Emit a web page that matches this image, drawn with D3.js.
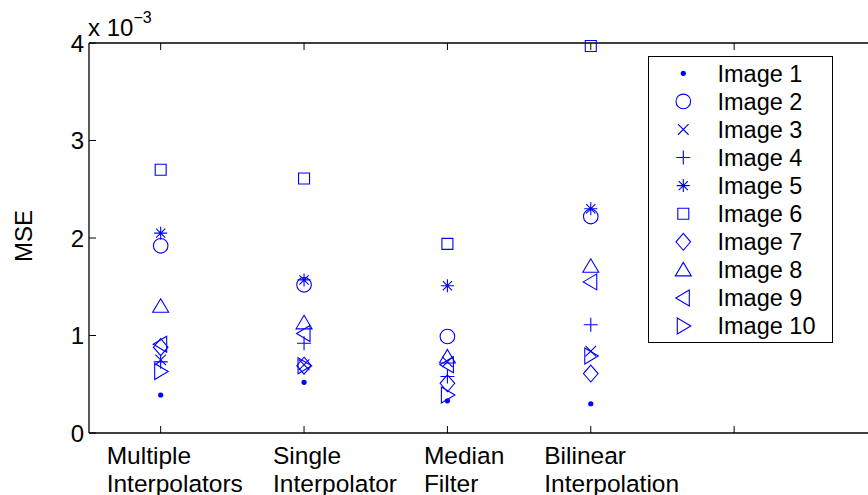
<!DOCTYPE html>
<html>
<head>
<meta charset="utf-8">
<script src="https://cdn.jsdelivr.net/npm/d3@7"></script>
<style>
  body { margin: 0; background: #fff; }
  svg { display: block; font-family: "Liberation Sans", Arial, Helvetica, sans-serif; }
</style>
</head>
<body>
<svg id="chart" width="868" height="495"></svg>
<script>
// methods on the x axis, one series per test image (MSE values)
const methods = [["Multiple", "Interpolators"], ["Single", "Interpolator"], ["Median", "Filter"], ["Bilinear", "Interpolation"]];
const seriesNames = ["Image 1", "Image 2", "Image 3", "Image 4", "Image 5", "Image 6", "Image 7", "Image 8", "Image 9", "Image 10"];
const markers = ["dot", "circle", "x", "plus", "star", "square", "diamond", "tri-up", "tri-left", "tri-right"];
const image1 = [0.00039, 0.00052, 0.00033, 0.00030];
const image2 = [0.00192, 0.00152, 0.00099, 0.00222];
const image3 = [0.00075, 0.00070, 0.00073, 0.00084];
const image4 = [0.00073, 0.00092, 0.00058, 0.00111];
const image5 = [0.00205, 0.00157, 0.00151, 0.00230];
const image6 = [0.00270, 0.00261, 0.00194, 0.00397];
const image7 = [0.00088, 0.00069, 0.00051, 0.00061];
const image8 = [0.00130, 0.00113, 0.00078, 0.00171];
const image9 = [0.00091, 0.00102, 0.00070, 0.00155];
const image10 = [0.00063, 0.00069, 0.00039, 0.00079];
const seriesValues = [image1, image2, image3, image4, image5, image6, image7, image8, image9, image10];
const yTicks = [0, 0.001, 0.002, 0.003, 0.004];
const xTicks = [1, 2, 3, 4, 5];

// tick label block offsets from the tick (labels were placed by hand in the original)
const labelShift = [-54, -31, -23.5, -46.5];

const svg = d3.select("#chart");
const plotLeft = 89, plotTop = 43, plotBottom = 433, plotRight = 877.5;

const x = d3.scaleLinear().domain([0.5, 6]).range([plotLeft, plotRight]);
const y = d3.scaleLinear().domain([0, 0.004]).range([plotBottom, plotTop]);

const blue = "#0000ff";

function markerPath(type) {
  const p = d3.path();
  switch (type) {
    case "circle":
      p.moveTo(7.3, 0); p.arc(0, 0, 7.3, 0, 2 * Math.PI); break;
    case "x":
      p.moveTo(-5.3, -5.3); p.lineTo(5.3, 5.3);
      p.moveTo(-5.3, 5.3); p.lineTo(5.3, -5.3); break;
    case "plus":
      p.moveTo(-7, 0); p.lineTo(7, 0);
      p.moveTo(0, -7); p.lineTo(0, 7); break;
    case "star":
      p.moveTo(-6.5, 0); p.lineTo(6.5, 0);
      p.moveTo(0, -6.5); p.lineTo(0, 6.5);
      p.moveTo(-4.6, -4.6); p.lineTo(4.6, 4.6);
      p.moveTo(-4.6, 4.6); p.lineTo(4.6, -4.6); break;
    case "square":
      p.rect(-5.5, -5.5, 11, 11); break;
    case "diamond":
      p.moveTo(0, -8.5); p.lineTo(7.3, 0); p.lineTo(0, 8.5); p.lineTo(-7.3, 0); p.closePath(); break;
    case "tri-up":
      p.moveTo(0, -7.5); p.lineTo(8, 6); p.lineTo(-8, 6); p.closePath(); break;
    case "tri-left":
      p.moveTo(-7.5, 0); p.lineTo(6, -8); p.lineTo(6, 8); p.closePath(); break;
    case "tri-right":
      p.moveTo(7.5, 0); p.lineTo(-6, -8); p.lineTo(-6, 8); p.closePath(); break;
  }
  return p.toString();
}

function drawMarker(g, type) {
  if (type === "dot") {
    g.append("circle").attr("r", 2.6).attr("fill", blue);
  } else {
    g.append("path").attr("d", markerPath(type))
      .attr("fill", "none").attr("stroke", blue).attr("stroke-width", 1.1);
  }
}

// axes box (right side runs off the page)
const axisColor = "#000";
svg.append("line").attr("x1", plotLeft).attr("x2", plotRight).attr("y1", plotBottom).attr("y2", plotBottom)
  .attr("stroke", axisColor).attr("stroke-width", 1.3);
svg.append("line").attr("x1", plotLeft).attr("x2", plotRight).attr("y1", plotTop).attr("y2", plotTop)
  .attr("stroke", axisColor).attr("stroke-width", 1.3);
svg.append("line").attr("x1", plotLeft).attr("x2", plotLeft).attr("y1", plotTop).attr("y2", plotBottom)
  .attr("stroke", axisColor).attr("stroke-width", 1.3);

// inward ticks
xTicks.forEach(t => {
  svg.append("line").attr("x1", x(t)).attr("x2", x(t)).attr("y1", plotBottom).attr("y2", plotBottom - 7)
    .attr("stroke", axisColor).attr("stroke-width", 1);
  svg.append("line").attr("x1", x(t)).attr("x2", x(t)).attr("y1", plotTop).attr("y2", plotTop + 7)
    .attr("stroke", axisColor).attr("stroke-width", 1);
});
yTicks.forEach(t => {
  svg.append("line").attr("x1", plotLeft).attr("x2", plotLeft + 7).attr("y1", y(t)).attr("y2", y(t))
    .attr("stroke", axisColor).attr("stroke-width", 1);
  svg.append("text").attr("x", 84).attr("y", y(t)).attr("dy", "0.36em")
    .attr("text-anchor", "end").attr("font-size", 24).text(d3.format("d")(t * 1000));
});

// x tick labels, two lines each
methods.forEach((lines, i) => {
  const t = svg.append("text").attr("font-size", 24.5).attr("fill", "#000");
  lines.forEach((s, j) => {
    t.append("tspan").attr("x", x(i + 1) + labelShift[i]).attr("y", 464 + j * 27.5).text(s);
  });
});

// exponent label
const ex = svg.append("text").attr("x", 88).attr("y", 36).attr("font-size", 24);
ex.append("tspan").text("x 10");
ex.append("tspan").attr("dy", -13).attr("font-size", 16).text("\u22123");

// y axis title
svg.append("text").attr("transform", "translate(23,236) rotate(-90)")
  .attr("text-anchor", "middle").attr("dy", "0.36em").attr("font-size", 24).text("MSE");

// data points
seriesValues.forEach((vals, s) => {
  vals.forEach((v, i) => {
    const g = svg.append("g").attr("transform", `translate(${x(i + 1)},${y(v)})`);
    drawMarker(g, markers[s]);
  });
});

// legend
const lg = svg.append("g");
lg.append("rect").attr("x", 648.5).attr("y", 56.5).attr("width", 184).attr("height", 286)
  .attr("fill", "#fff").attr("stroke", "#000").attr("stroke-width", 1);
seriesNames.forEach((name, s) => {
  const cy = 73.3 + s * 28.08;
  const g = lg.append("g").attr("transform", `translate(683.3,${cy})`);
  drawMarker(g, markers[s]);
  lg.append("text").attr("x", 717.5).attr("y", cy).attr("dy", "0.36em")
    .attr("font-size", 23.5).text(name);
});
</script>
</body>
</html>
